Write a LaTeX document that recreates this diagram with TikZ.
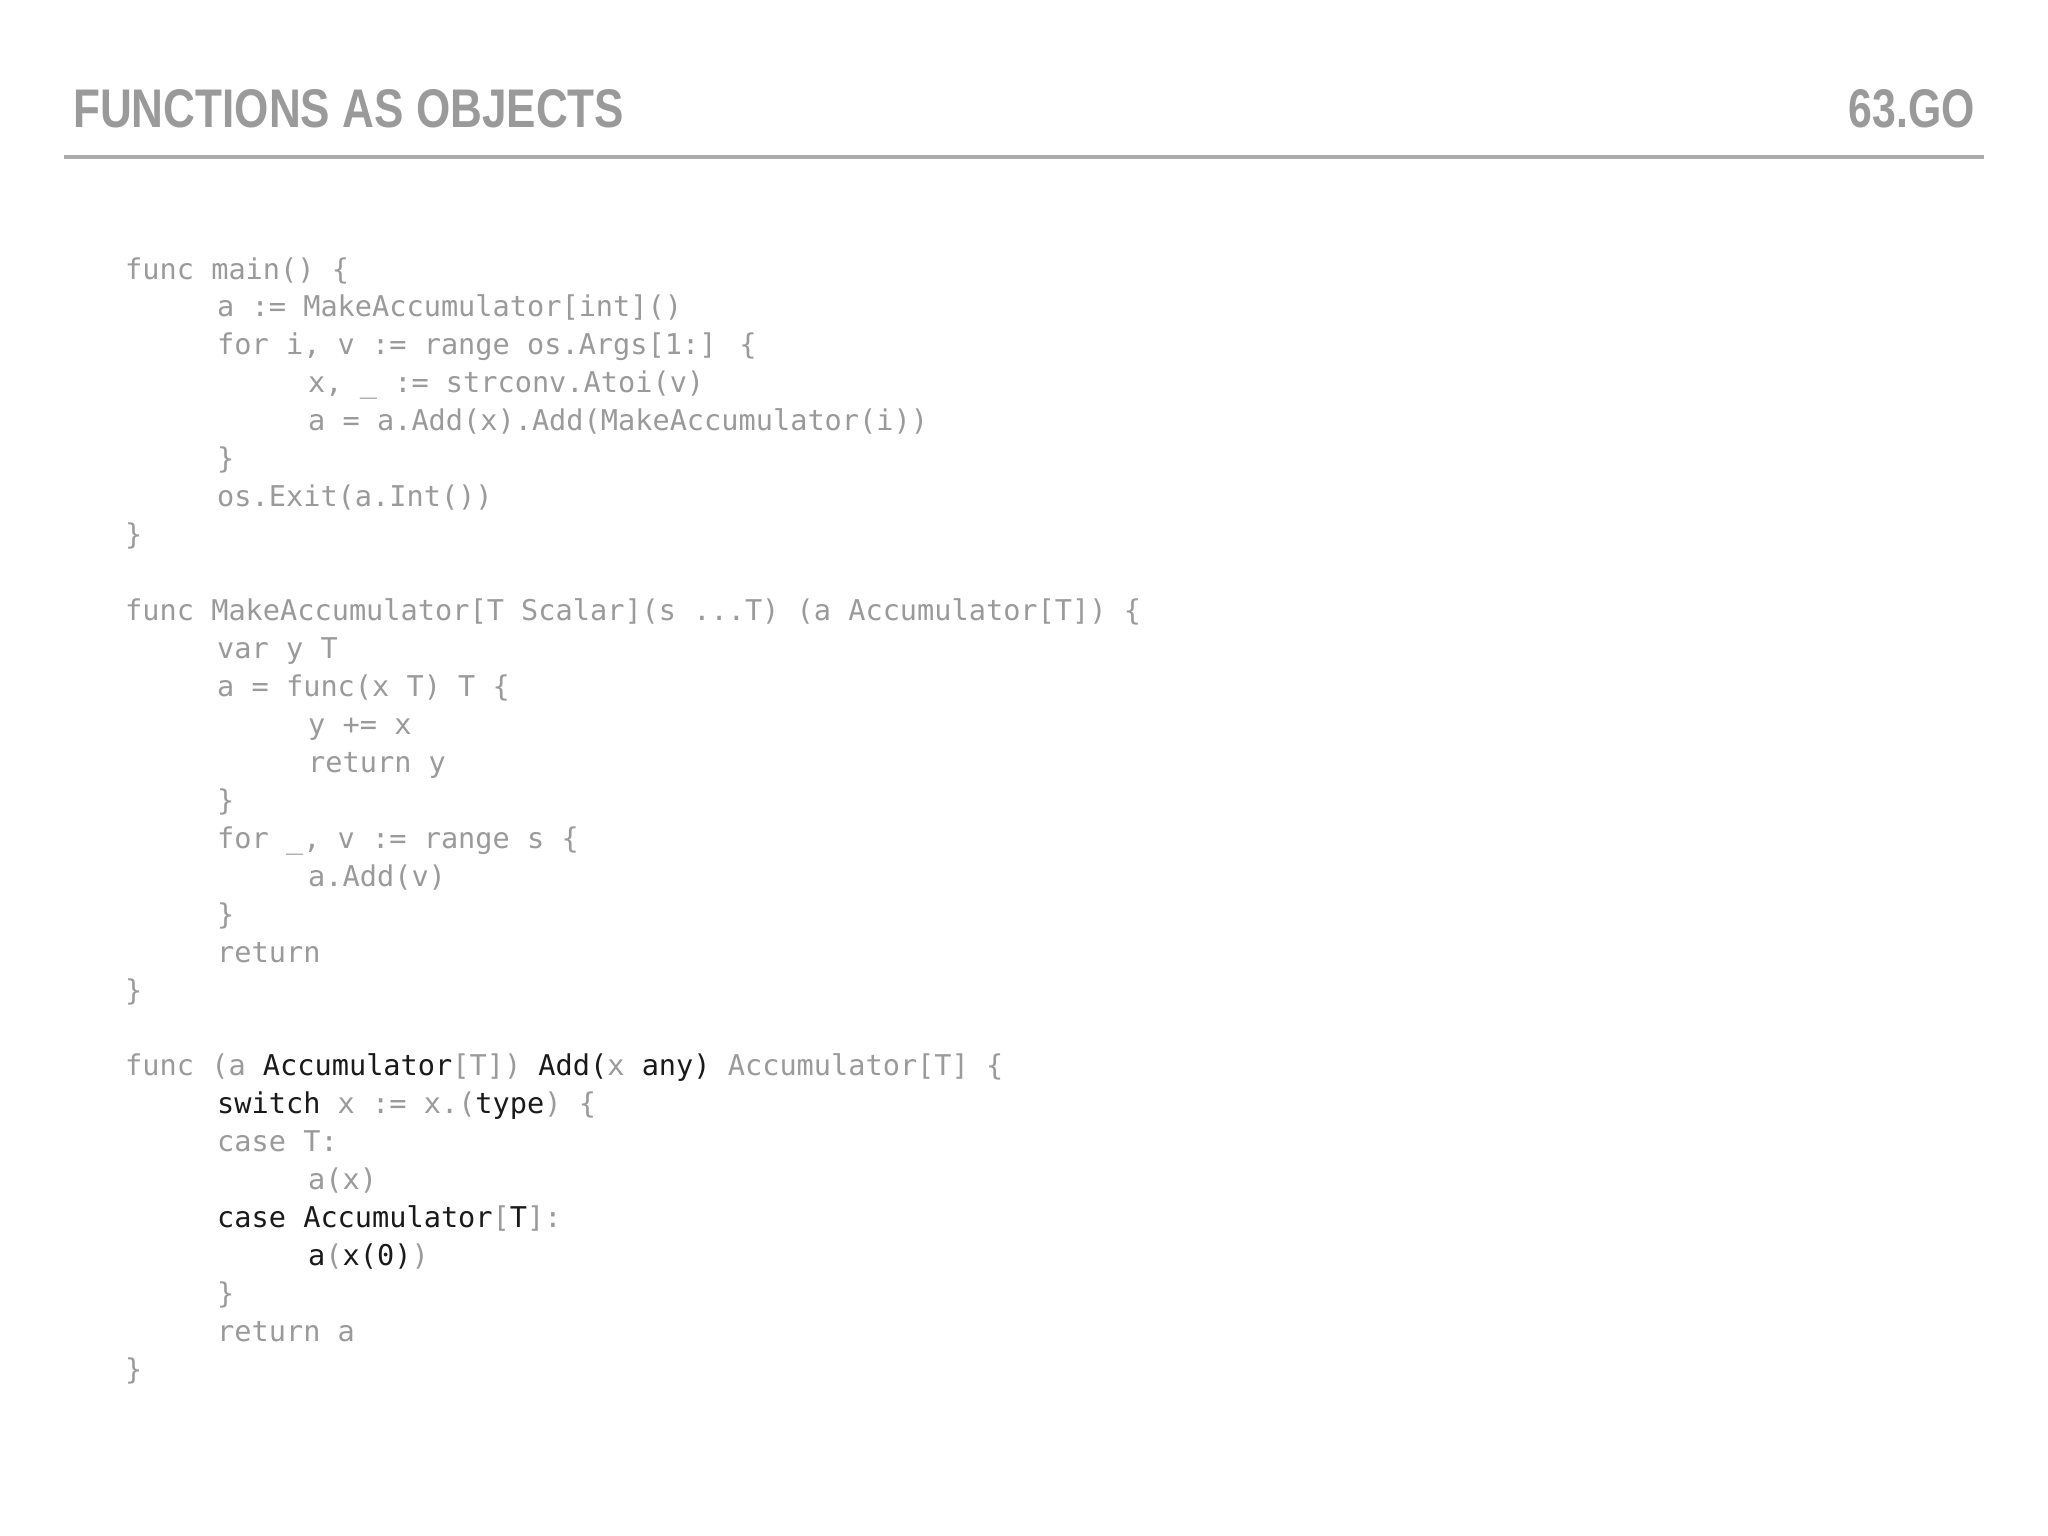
\documentclass[tikz,border=0pt]{standalone}
\usepackage{fontspec}
\setmainfont{Liberation Sans}
\newfontfamily\codefont{DejaVu Sans Mono}[Scale=1]
\newfontfamily\titlefont{Liberation Sans Bold}
\definecolor{dimc}{HTML}{9A9A9A}
\definecolor{dark}{HTML}{1A1A1A}
\definecolor{rulec}{HTML}{ABABAB}
\newcommand{\dk}[1]{\textcolor{dark}{#1}}
\begin{document}
\begin{tikzpicture}[x=1pt,y=-1pt,
  code/.style={anchor=base west,inner sep=0pt,text=dimc,font=\codefont\fontsize{28.6}{30}\selectfont},
  ttl/.style={inner sep=0pt,text=dimc,font=\titlefont}]
\useasboundingbox (0,0) rectangle (2048,1536);
\node[ttl,anchor=north west] (title) at (73,89) {\resizebox{551pt}{38pt}{FUNCTIONS AS OBJECTS}};
\node[ttl,anchor=north east] (num) at (1975,89) {\resizebox{126pt}{38pt}{63.GO}};
\coordinate (rl) at (64,157);
\coordinate (rr) at (1984,157);
\draw[rulec,line width=3.5pt] (rl) -- (rr);
\def\A{125}\def\B{217}\def\C{308}
\newcommand{\codeln}[3]{\node[code] (l#1) at (#2,{279+37.95*#1}) {#3};}
\codeln{0}{\A}{func main() \{}
\codeln{1}{\B}{a := MakeAccumulator[int]()}
\codeln{2}{\B}{for i, v := range os.Args[1:] \{}
\codeln{3}{\C}{x, \_ := strconv.Atoi(v)}
\codeln{4}{\C}{a = a.Add(x).Add(MakeAccumulator(i))}
\codeln{5}{\B}{\}}
\codeln{6}{\B}{os.Exit(a.Int())}
\codeln{7}{\A}{\}}
\codeln{9}{\A}{func MakeAccumulator[T Scalar](s ...T) (a Accumulator[T]) \{}
\codeln{10}{\B}{var y T}
\codeln{11}{\B}{a = func(x T) T \{}
\codeln{12}{\C}{y += x}
\codeln{13}{\C}{return y}
\codeln{14}{\B}{\}}
\codeln{15}{\B}{for \_, v := range s \{}
\codeln{16}{\C}{a.Add(v)}
\codeln{17}{\B}{\}}
\codeln{18}{\B}{return}
\codeln{19}{\A}{\}}
\codeln{21}{\A}{func (a \dk{Accumulator}[T]) \dk{Add(}x \dk{any)} Accumulator[T] \{}
\codeln{22}{\B}{\dk{switch} x := x.(\dk{type}) \{}
\codeln{23}{\B}{case T:}
\codeln{24}{\C}{a(x)}
\codeln{25}{\B}{\dk{case Accumulator}[\dk{T}]:}
\codeln{26}{\C}{\dk{a}(\dk{x(0)})}
\codeln{27}{\B}{\}}
\codeln{28}{\B}{return a}
\codeln{29}{\A}{\}}
\end{tikzpicture}
\end{document}
